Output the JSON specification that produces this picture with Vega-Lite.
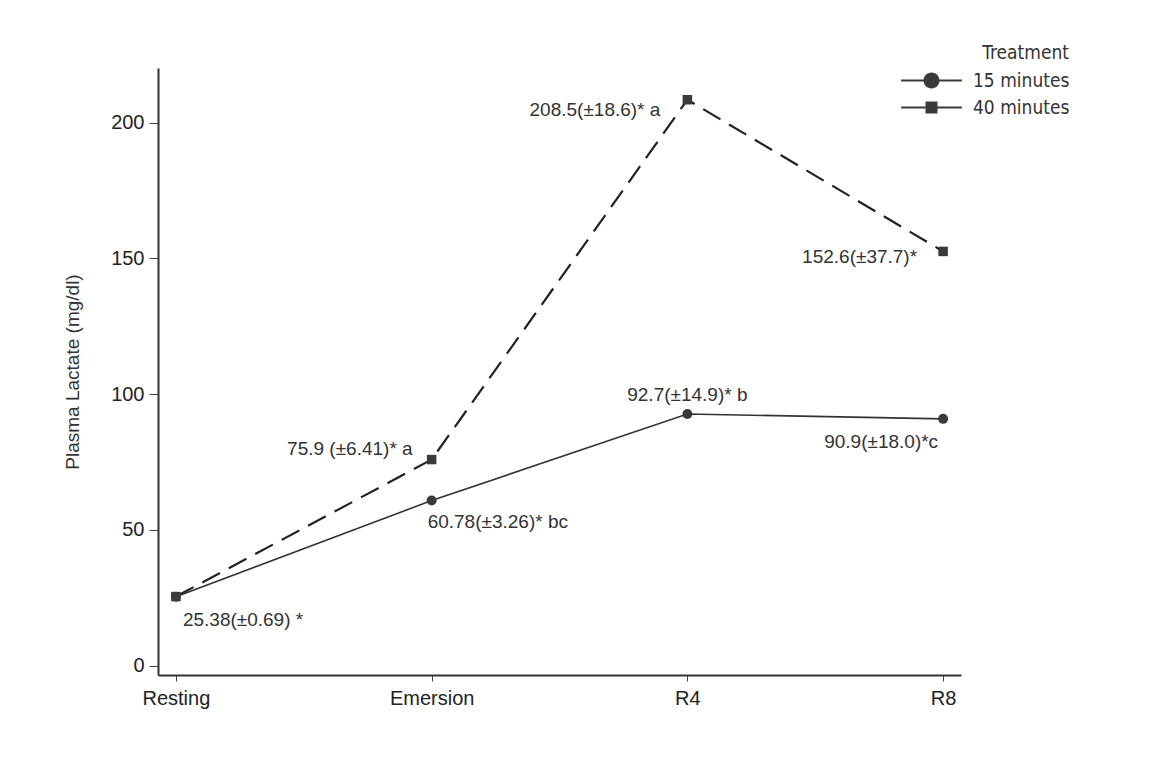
{
  "$schema": "https://vega.github.io/schema/vega-lite/v6.json",
  "width": 803,
  "height": 607,
  "autosize": "none",
  "padding": {"left": 158, "top": 68, "right": 215, "bottom": 94},
  "background": "white",
  "config": {"view": {"stroke": null}, "font": "Liberation Sans"},
  "data": {
    "values": [
      {"Time": "Resting", "Treatment": "40 minutes", "Lactate": 25.4, "Label": ""},
      {"Time": "Emersion", "Treatment": "40 minutes", "Lactate": 75.9, "Label": "75.9 (±6.41)* a"},
      {"Time": "R4", "Treatment": "40 minutes", "Lactate": 208.5, "Label": "208.5(±18.6)* a"},
      {"Time": "R8", "Treatment": "40 minutes", "Lactate": 152.6, "Label": "152.6(±37.7)*"},
      {"Time": "Resting", "Treatment": "15 minutes", "Lactate": 25.38, "Label": "25.38(±0.69)    *"},
      {"Time": "Emersion", "Treatment": "15 minutes", "Lactate": 60.78, "Label": "60.78(±3.26)* bc"},
      {"Time": "R4", "Treatment": "15 minutes", "Lactate": 92.7, "Label": "92.7(±14.9)* b"},
      {"Time": "R8", "Treatment": "15 minutes", "Lactate": 90.9, "Label": "90.9(±18.0)*c"}
    ]
  },
  "encoding": {
    "x": {
      "field": "Time",
      "type": "ordinal",
      "sort": ["Resting", "Emersion", "R4", "R8"],
      "scale": {"type": "point", "padding": 0.07},
      "axis": {
        "title": null,
        "labelAngle": 0,
        "labelFont": "Liberation Sans",
        "labelFontSize": 20,
        "labelColor": "#222",
        "labelPadding": 7,
        "tickSize": 6,
        "tickColor": "#444",
        "domainColor": "#333",
        "domainWidth": 2,
        "grid": false
      }
    },
    "y": {
      "field": "Lactate",
      "type": "quantitative",
      "scale": {"domain": [-3.5, 220.2], "nice": false, "zero": false},
      "axis": {
        "values": [0, 50, 100, 150, 200],
        "title": "Plasma Lactate (mg/dl)",
        "titleFont": "Liberation Sans",
        "titleFontSize": 19,
        "titleFontWeight": "normal",
        "titleColor": "#333",
        "titlePadding": 28,
        "labelFont": "Liberation Sans",
        "labelFontSize": 20,
        "labelColor": "#222",
        "labelPadding": 5,
        "tickSize": 9,
        "tickColor": "#444",
        "domainColor": "#333",
        "domainWidth": 2,
        "grid": false
      }
    }
  },
  "layer": [
    {
      "transform": [{"filter": "datum.Treatment === '40 minutes'"}],
      "mark": {"type": "line", "color": "#222", "strokeWidth": 2.2, "strokeDash": [20, 10]},
      "encoding": {}
    },
    {
      "transform": [{"filter": "datum.Treatment === '15 minutes'"}],
      "mark": {"type": "line", "color": "#333", "strokeWidth": 1.6},
      "encoding": {}
    },
    {
      "mark": {"type": "point", "filled": true, "color": "#3a3a3a", "opacity": 0, "size": 256},
      "encoding": {
        "shape": {
          "field": "Treatment",
          "type": "nominal",
          "scale": {
            "domain": ["15 minutes", "40 minutes"],
            "range": [
              "M-3.8,-0.12H-0.95V0.12H-3.8ZM0.95,-0.12H3.8V0.12H0.95ZM-1,0A1,1,0,1,1,1,0A1,1,0,1,1,-1,0Z",
              "M-3.8,-0.12H-0.75V0.12H-3.8ZM0.75,-0.12H3.8V0.12H0.75ZM-0.75,-0.75H0.75V0.75H-0.75Z"
            ]
          },
          "legend": {
            "title": "Treatment",
            "orient": "none",
            "legendX": 764,
            "legendY": -24,
            "padding": 0,
            "titleFont": "DejaVu Sans Condensed, DejaVu Sans",
            "titleFontSize": 19,
            "titleFontWeight": "normal",
            "titleColor": "#333",
            "titleAnchor": "end",
            "titlePadding": 8,
            "labelFont": "DejaVu Sans Condensed, DejaVu Sans",
            "labelFontSize": 19,
            "labelColor": "#333",
            "labelOffset": 32,
            "rowPadding": 6,
            "symbolSize": 256,
            "symbolOpacity": 1,
            "symbolFillColor": "#3a3a3a"
          }
        }
      }
    },
    {
      "transform": [{"filter": "datum.Treatment === '40 minutes'"}],
      "mark": {"type": "point", "shape": "square", "filled": true, "opacity": 1, "color": "#3a3a3a", "size": 90},
      "encoding": {}
    },
    {
      "transform": [{"filter": "datum.Treatment === '15 minutes'"}],
      "mark": {"type": "point", "shape": "circle", "filled": true, "opacity": 1, "color": "#3a3a3a", "size": 100},
      "encoding": {}
    },
    {
      "transform": [{"filter": "datum.Time === 'Resting' && datum.Treatment === '15 minutes'"}],
      "mark": {"type": "text", "align": "left", "baseline": "middle", "dx": 7, "dy": 23, "fontSize": 19, "color": "#333"},
      "encoding": {"text": {"field": "Label"}}
    },
    {
      "transform": [{"filter": "datum.Time === 'Emersion' && datum.Treatment === '15 minutes'"}],
      "mark": {"type": "text", "align": "left", "baseline": "middle", "dx": -4, "dy": 21, "fontSize": 19, "color": "#333"},
      "encoding": {"text": {"field": "Label"}}
    },
    {
      "transform": [{"filter": "datum.Time === 'Emersion' && datum.Treatment === '40 minutes'"}],
      "mark": {"type": "text", "align": "right", "baseline": "middle", "dx": -19, "dy": -11, "fontSize": 19, "color": "#333"},
      "encoding": {"text": {"field": "Label"}}
    },
    {
      "transform": [{"filter": "datum.Time === 'R4' && datum.Treatment === '15 minutes'"}],
      "mark": {"type": "text", "align": "center", "baseline": "middle", "dx": 0, "dy": -19, "fontSize": 19, "color": "#333"},
      "encoding": {"text": {"field": "Label"}}
    },
    {
      "transform": [{"filter": "datum.Time === 'R4' && datum.Treatment === '40 minutes'"}],
      "mark": {"type": "text", "align": "right", "baseline": "middle", "dx": -27, "dy": 10, "fontSize": 19, "color": "#333"},
      "encoding": {"text": {"field": "Label"}}
    },
    {
      "transform": [{"filter": "datum.Time === 'R8' && datum.Treatment === '40 minutes'"}],
      "mark": {"type": "text", "align": "right", "baseline": "middle", "dx": -26, "dy": 6, "fontSize": 19, "color": "#333"},
      "encoding": {"text": {"field": "Label"}}
    },
    {
      "transform": [{"filter": "datum.Time === 'R8' && datum.Treatment === '15 minutes'"}],
      "mark": {"type": "text", "align": "right", "baseline": "middle", "dx": -5, "dy": 23, "fontSize": 19, "color": "#333"},
      "encoding": {"text": {"field": "Label"}}
    }
  ]
}
